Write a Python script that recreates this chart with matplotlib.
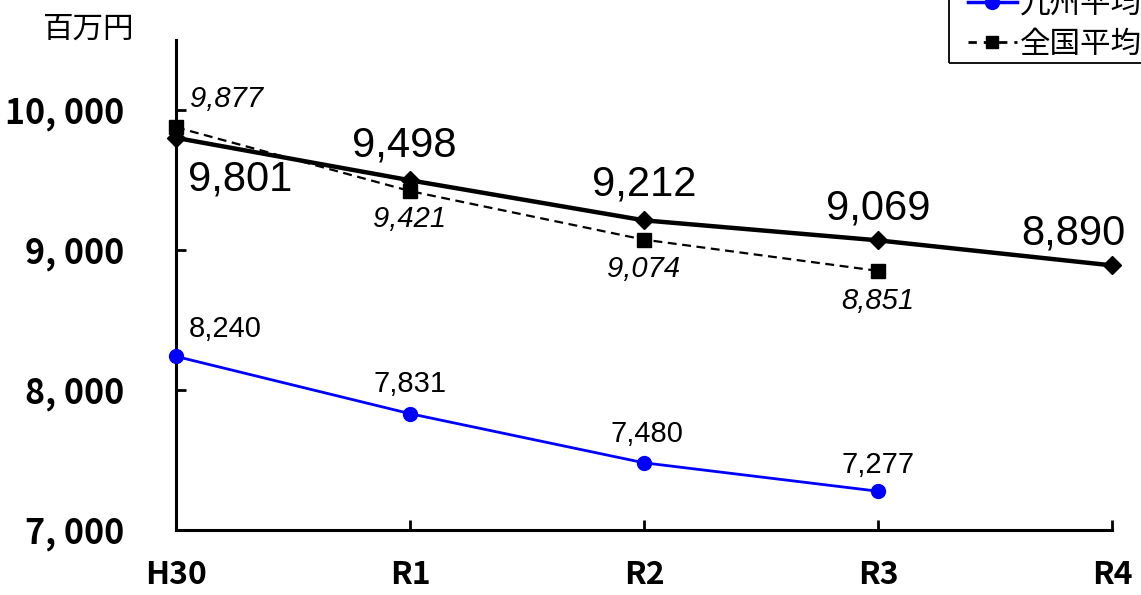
import matplotlib
matplotlib.use("Agg")
import matplotlib.pyplot as plt
from matplotlib.lines import Line2D
from matplotlib.patches import Rectangle

categories = ["H30", "R1", "R2", "R3", "R4"]
main_values = [9801, 9498, 9212, 9069, 8890]
national_avg = [9877, 9421, 9074, 8851]
kyushu_avg = [8240, 7831, 7480, 7277]
yticks = [7000, 8000, 9000, 10000]
ytick_labels = ["7, 000", "8, 000", "9, 000", "10, 000"]
legend_labels = ["九州平均", "全国平均"]
unit_label = "百万円"

plt.rcParams['font.family'] = ['Noto Sans CJK JP', 'DejaVu Sans']

fig = plt.figure(figsize=(11.41, 5.95), dpi=100)
ax = fig.add_axes([176/1141, 1-530/595, (1112-176)/1141, (530-40)/595])

x_main = list(range(len(main_values)))
x_nat = list(range(len(national_avg)))
x_kyu = list(range(len(kyushu_avg)))

ax.plot(x_main, main_values, color="black", lw=3.2, marker="D", ms=9, zorder=4, clip_on=False)
ax.plot(x_nat, national_avg, color="black", lw=1.6, ls=(0, (4, 2.5)), marker="s", ms=9.5, zorder=3, clip_on=False)
ax.plot(x_kyu, kyushu_avg, color="#0000ff", lw=2, marker="o", ms=10, zorder=3, clip_on=False)

ax.set_xlim(0, 4)
ax.set_ylim(7000, 10500)
ax.set_xticks(range(len(categories)))
ax.set_xticklabels(categories, fontsize=23, fontweight="bold")
ax.set_yticks(yticks)
ax.set_yticklabels(ytick_labels, fontsize=24.5, fontweight="bold")

for s in ["top", "right"]:
    ax.spines[s].set_visible(False)
for s in ["left", "bottom"]:
    ax.spines[s].set_linewidth(2.2)
ax.tick_params(axis="y", direction="in", length=7, width=2, pad=37)
ax.tick_params(axis="x", direction="in", length=7, width=2, pad=21)

lab_main = "Liberation Sans"
main_offsets = [(9, -30, "left"), (-4, 25, "center"), (0, 26, "center"), (0, 23, "center"), (-28, 23, "center")]
for i, v in enumerate(main_values):
    dx, dy, ha = main_offsets[i]
    ax.annotate(f"{v:,}", (x_main[i], v), xytext=(dx, dy), textcoords="offset points",
                ha=ha, va="center", fontsize=30, family=lab_main, zorder=6, annotation_clip=False)

nat_offsets = [(10, 20, "left"), (0, -20, "center"), (0, -21, "center"), (0, -22, "center")]
for i, v in enumerate(national_avg):
    dx, dy, ha = nat_offsets[i]
    ax.annotate(f"{v:,}", (x_nat[i], v), xytext=(dx, dy), textcoords="offset points",
                ha=ha, va="center", fontsize=21, style="italic", family=lab_main, zorder=6)

kyu_offsets = [(9, 20, "left"), (0, 21, "center"), (2, 21, "center"), (0, 19, "center")]
for i, v in enumerate(kyushu_avg):
    dx, dy, ha = kyu_offsets[i]
    ax.annotate(f"{v:,}", (x_kyu[i], v), xytext=(dx, dy), textcoords="offset points",
                ha=ha, va="center", fontsize=21, family=lab_main, zorder=6)

fig.text(88/1141, 1-29/595, unit_label, fontsize=22, ha="center", va="center")

# legend (frame drawn separately so it can run past the figure edge like the reference)
handles = [
    Line2D([], [], color="#0000ff", lw=2.5, marker="o", ms=10),
    Line2D([], [], color="black", lw=2, ls=(0, (3, 2.5)), marker="s", ms=9),
]
leg = fig.legend(handles, legend_labels, loc="lower left", bbox_to_anchor=(968/1141, 1-60/595),
                 fontsize=22, frameon=False,
                 handlelength=1.6, handletextpad=0.1, labelspacing=0.32, borderpad=0.0,
                 borderaxespad=0)
fig.patches.append(Rectangle((949/1141, 1-63/595), 0.2, 0.2, transform=fig.transFigure,
                             fill=False, edgecolor="black", lw=1.3, zorder=10))

fig.savefig("out.png", dpi=100)
